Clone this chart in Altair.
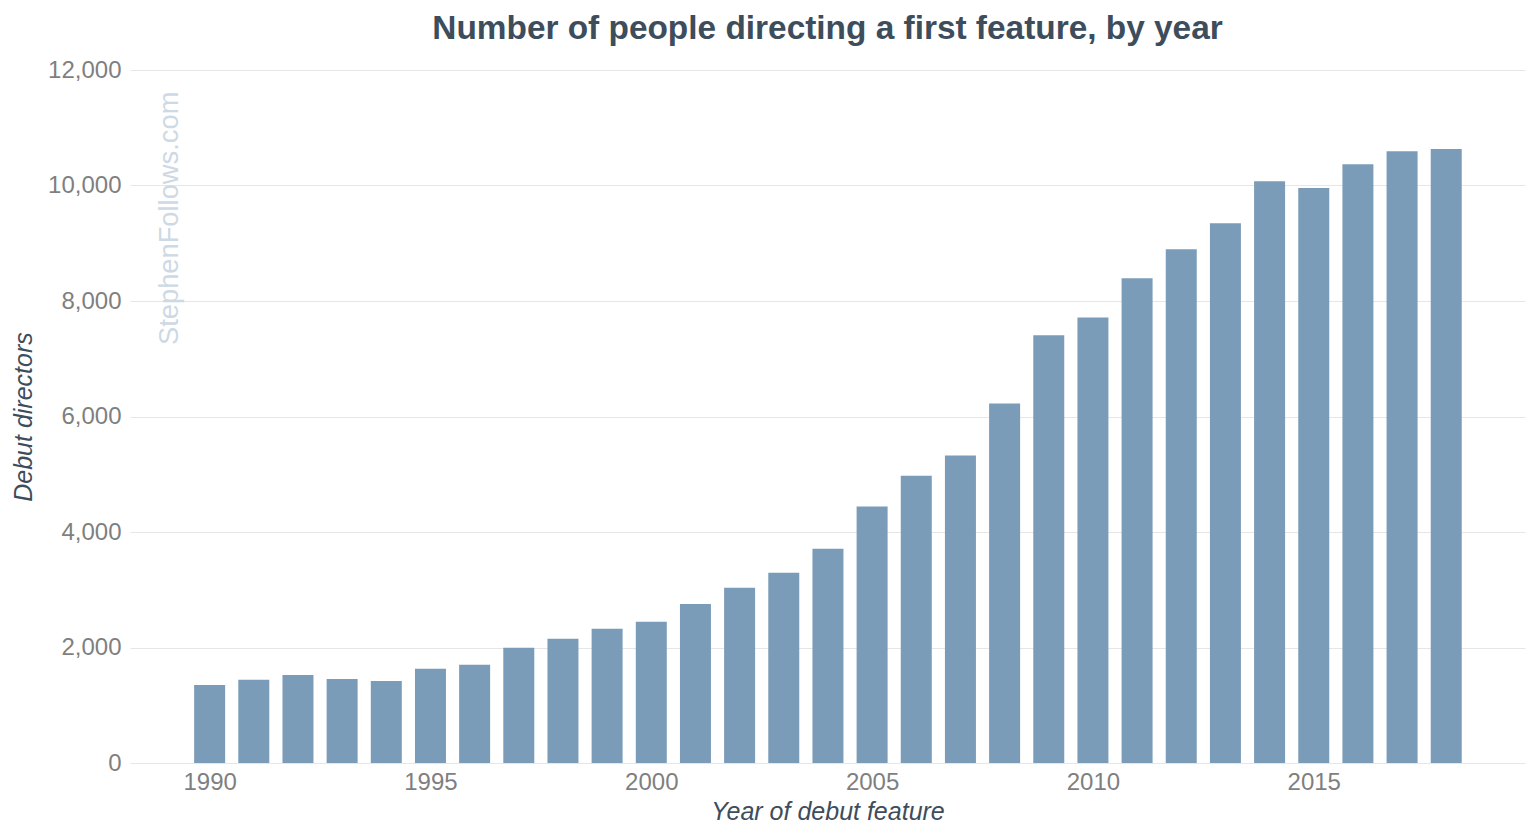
import altair as alt
import pandas as pd

years = list(range(1990, 2019))
directors = [1350, 1440, 1525, 1455, 1420, 1630, 1700, 1995, 2150, 2325, 2445, 2755,
             3035, 3295, 3710, 4440, 4975, 5325, 6225, 7405, 7715, 8395, 8895, 9345,
             10075, 9955, 10370, 10595, 10630]
y_ticks = [0, 2000, 4000, 6000, 8000, 10000, 12000]
x_ticks = [1990, 1995, 2000, 2005, 2010, 2015]

df = pd.DataFrame({"year": years, "directors": directors})

FONT = "Liberation Sans"
BAR = "#7a9cb8"
DARK = "#3d4d5c"
GREY = "#7f7f7f"

bars = alt.Chart(df).mark_bar(size=31, color=BAR).encode(
    x=alt.X("year:Q",
            scale=alt.Scale(domain=[1988.31, 2019.67], nice=False, zero=False),
            axis=alt.Axis(values=x_ticks, format="d", title="Year of debut feature",
                          grid=False, ticks=False, domain=False,
                          labelPadding=7, titlePadding=5)),
    y=alt.Y("directors:Q",
            scale=alt.Scale(domain=[0, 12000], nice=False),
            axis=alt.Axis(values=y_ticks, format=",d", title="Debut directors",
                          grid=True, ticks=False, domain=False,
                          labelPadding=9, titlePadding=11)),
)

mark_df = pd.DataFrame({"label": ["StephenFollows.com"]})
watermark = alt.Chart(mark_df).mark_text(
    angle=270, align="left", baseline="alphabetic", fontSize=27.3,
    font=FONT, color="#cdd9e4"
).encode(
    x=alt.value(47.5),
    y=alt.value(275),
    text="label:N",
)

chart = alt.layer(bars, watermark).properties(
    width=1395,
    height=693,
    padding={"left": 122, "top": 62, "right": 7, "bottom": 65},
    autosize=alt.AutoSizeParams(type="none"),
    title=alt.TitleParams("Number of people directing a first feature, by year",
                          font=FONT, fontSize=33.4, fontWeight="bold", color=DARK,
                          anchor="middle", offset=12),
).configure_view(stroke=None).configure_axis(
    labelFont=FONT, labelFontSize=24, labelColor=GREY,
    titleFont=FONT, titleFontSize=25, titleColor=DARK, titleFontStyle="italic",
    titleFontWeight="normal", gridColor="#e6e6e6", gridWidth=1,
)

chart.save("out.html", embed_options={"renderer": "svg", "actions": False})
